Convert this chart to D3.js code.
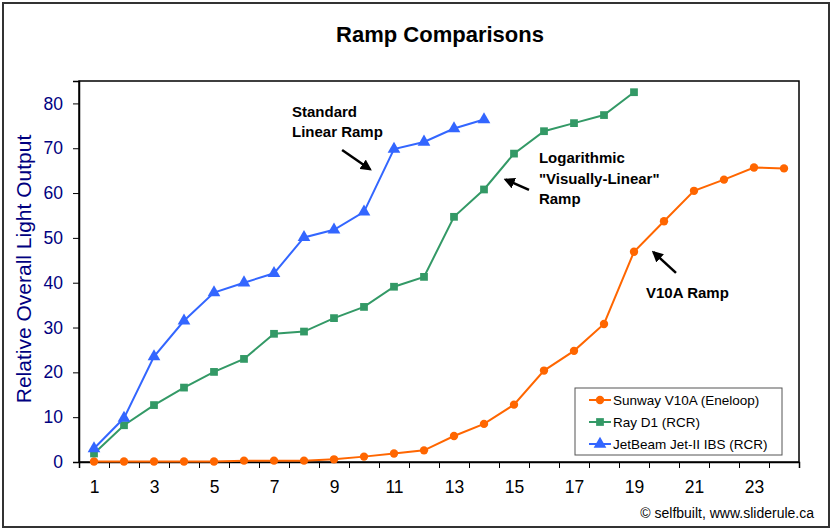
<!DOCTYPE html>
<html>
<head>
<meta charset="utf-8">
<script src="https://cdn.jsdelivr.net/npm/d3@7"></script>
<style>
  html, body { margin: 0; padding: 0; background: #fff; }
  svg { display: block; font-family: "Liberation Sans", Arial, sans-serif; }
</style>
</head>
<body>
<svg id="chart" width="833" height="530"></svg>
<script>
// ---- data ----
const categories = d3.range(1, 25);
const xTickLabels = [1, 3, 5, 7, 9, 11, 13, 15, 17, 19, 21, 23];
const yTickValues = [0, 10, 20, 30, 40, 50, 60, 70, 80];
const seriesNames = ["Sunway V10A (Eneloop)", "Ray D1 (RCR)", "JetBeam Jet-II IBS (RCR)"];
const sunwayV10A = [0.1, 0.1, 0.1, 0.1, 0.1, 0.3, 0.3, 0.3, 0.6, 1.2, 1.9, 2.6, 5.8, 8.5, 12.8, 20.4, 24.8, 30.8, 46.9, 53.7, 60.5, 63.0, 65.7, 65.5];
const rayD1 = [1.9, 8.2, 12.7, 16.6, 20.1, 23.0, 28.6, 29.1, 32.1, 34.6, 39.1, 41.3, 54.7, 60.8, 68.8, 73.8, 75.6, 77.4, 82.5];
const jetBeam = [3.0, 9.8, 23.5, 31.5, 37.8, 40.0, 42.1, 50.1, 51.8, 55.8, 69.8, 71.4, 74.4, 76.4];
const annotations = [
  { lines: ["Standard", "Linear Ramp"], at: [7.6, 77.0], arrow: [[9.27, 69.6], [10.2, 65.3]] },
  { lines: ["Logarithmic", "\"Visually-Linear\"", "Ramp"], at: [15.83, 66.7], arrow: [[15.5, 60.7], [14.72, 63.0]] },
  { lines: ["V10A Ramp"], at: [19.4, 36.6], arrow: [[20.4, 42.2], [19.65, 46.8]] }
];

// ---- layout ----
const svg = d3.select("#chart");
const plot = { left: 79, right: 799, top: 81, bottom: 462 };
const x = d3.scaleLinear().domain([0.5, 24.5]).range([plot.left, plot.right]);
const y = d3.scaleLinear().domain([0, 85]).range([plot.bottom, plot.top]);
const colors = ["#FF6600", "#339966", "#3366FF"];
const shapes = [d3.symbolCircle, d3.symbolSquare, d3.symbolTriangle];
const sizes = [55, 60, 70];
const seriesData = [sunwayV10A, rayD1, jetBeam];

// outer border
svg.append("rect").attr("x", 3).attr("y", 3).attr("width", 826).attr("height", 524)
  .attr("fill", "#fff").attr("stroke", "#333").attr("stroke-width", 2);

// title
svg.append("text").attr("x", 440).attr("y", 42).attr("text-anchor", "middle")
  .attr("font-size", 22).attr("font-weight", "bold").attr("fill", "#000").text("Ramp Comparisons");

// plot frame
svg.append("rect").attr("x", plot.left).attr("y", plot.top)
  .attr("width", plot.right - plot.left).attr("height", plot.bottom - plot.top)
  .attr("fill", "#fff").attr("stroke", "#000").attr("stroke-width", 1.5);

// y axis
const yAxis = svg.append("g").attr("transform", `translate(${plot.left},0)`)
  .call(d3.axisLeft(y).tickValues(yTickValues).tickSize(6).tickPadding(10));
yAxis.select(".domain").attr("stroke", "#000").attr("stroke-width", 1.5);
yAxis.selectAll(".tick line").attr("stroke", "#000");
yAxis.selectAll(".tick text").attr("font-size", 17.5).attr("fill", "#000080")
  .attr("font-family", "Liberation Sans, Arial, sans-serif");

// x axis ticks (category boundaries)
const xTickAxis = svg.append("g").attr("transform", `translate(0,${plot.bottom})`)
  .call(d3.axisBottom(x).tickValues(d3.range(0.5, 25, 1)).tickSize(6).tickFormat(""));
xTickAxis.select(".domain").attr("stroke", "#000").attr("stroke-width", 1.5);
xTickAxis.selectAll(".tick line").attr("stroke", "#000");
// x labels
const xLabelAxis = svg.append("g").attr("transform", `translate(0,${plot.bottom})`)
  .call(d3.axisBottom(x).tickValues(xTickLabels).tickSize(0).tickPadding(19).tickFormat(d3.format("d")));
xLabelAxis.select(".domain").remove();
xLabelAxis.selectAll(".tick text").attr("font-size", 17.5).attr("fill", "#000")
  .attr("font-family", "Liberation Sans, Arial, sans-serif");

// y axis title
svg.append("text").attr("transform", "translate(31,269) rotate(-90)")
  .attr("text-anchor", "middle").attr("font-size", 21).attr("fill", "#000080")
  .text("Relative Overall Light Output");

// series
const line = d3.line().x((d, i) => x(categories[i])).y(d => y(d));
seriesData.forEach((vals, s) => {
  const g = svg.append("g");
  g.append("path").datum(vals).attr("d", line).attr("fill", "none")
    .attr("stroke", colors[s]).attr("stroke-width", 2);
  g.selectAll("path.m").data(vals).join("path").attr("class", "m")
    .attr("d", d3.symbol().type(shapes[s]).size(sizes[s]))
    .attr("transform", (d, i) => `translate(${x(categories[i])},${y(d)})`)
    .attr("fill", colors[s]);
});

// annotations
svg.append("defs").append("marker").attr("id", "arr").attr("viewBox", "0 0 10 10")
  .attr("refX", 8).attr("refY", 5).attr("markerWidth", 4.5).attr("markerHeight", 4.5)
  .attr("orient", "auto").append("path").attr("d", "M0,0 L10,5 L0,10 z").attr("fill", "#000");
annotations.forEach(a => {
  const t = svg.append("text").attr("x", x(a.at[0])).attr("y", y(a.at[1]))
    .attr("font-size", 15).attr("font-weight", "bold").attr("fill", "#000");
  a.lines.forEach((l, i) => t.append("tspan").attr("x", x(a.at[0])).attr("dy", i === 0 ? 0 : 20.5).text(l));
  svg.append("line").attr("x1", x(a.arrow[0][0])).attr("y1", y(a.arrow[0][1]))
    .attr("x2", x(a.arrow[1][0])).attr("y2", y(a.arrow[1][1]))
    .attr("stroke", "#000").attr("stroke-width", 2.5).attr("marker-end", "url(#arr)");
});

// legend
const lg = svg.append("g").attr("transform", "translate(575,388)");
lg.append("rect").attr("width", 207).attr("height", 67).attr("fill", "#fff")
  .attr("stroke", "#555").attr("stroke-width", 1);
seriesNames.forEach((n, s) => {
  const yy = 12 + s * 22;
  lg.append("line").attr("x1", 14).attr("x2", 36).attr("y1", yy).attr("y2", yy)
    .attr("stroke", colors[s]).attr("stroke-width", 2);
  lg.append("path").attr("d", d3.symbol().type(shapes[s]).size(sizes[s])())
    .attr("transform", `translate(25,${yy})`).attr("fill", colors[s]);
  lg.append("text").attr("x", 38).attr("y", yy + 5).attr("font-size", 13.5).attr("fill", "#000").text(n);
});

// credit
svg.append("text").attr("x", 814).attr("y", 518).attr("text-anchor", "end")
  .attr("font-size", 14).attr("fill", "#000").text("© selfbuilt, www.sliderule.ca");
</script>
</body>
</html>
